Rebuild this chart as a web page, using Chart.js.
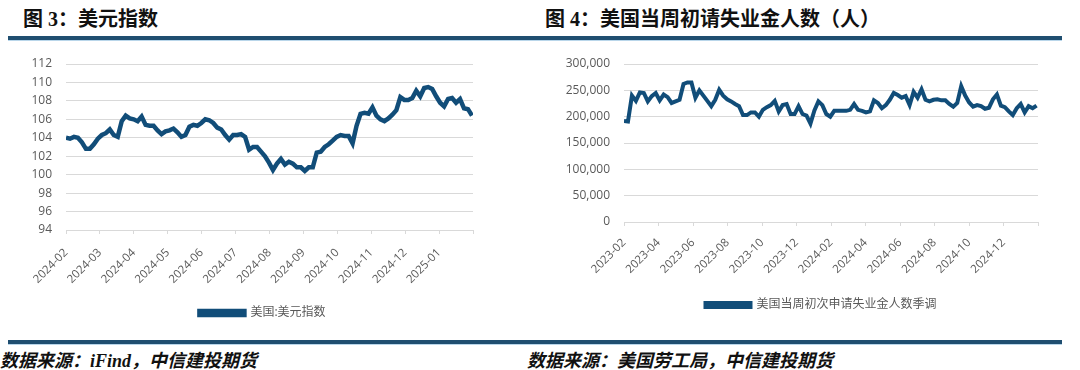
<!DOCTYPE html>
<html>
<head>
<meta charset="utf-8">
<script src="https://cdn.jsdelivr.net/npm/chart.js@4.4.1/dist/chart.umd.min.js"></script>
<style>
  body { margin: 0; width: 1080px; height: 370px; background: #fff; position: relative; overflow: hidden; }
  .title { position: absolute; top: 3px; font-size: 20px; font-weight: bold; color: #111;
           font-family: "Liberation Serif", "Noto Sans CJK SC", serif; white-space: nowrap; }
  .rule { position: absolute; height: 4px; background: #1f4e70; border-bottom: 1px solid #b9d6ea; }
  .foot { position: absolute; top: 346px; font-size: 18px; font-weight: bold; font-style: italic; color: #111;
          font-family: "Liberation Serif", "Noto Sans CJK SC", serif; white-space: nowrap; }
  .box { position: absolute; top: 40px; width: 540px; height: 300px; }
</style>
</head>
<body>
<div class="title" style="left:23px">图 3：美元指数</div>
<div class="title" style="left:545px">图 4：美国当周初请失业金人数（人）</div>
<div class="rule" style="left:8px; top:36px; width:546px"></div>
<div class="rule" style="left:552px; top:36px; width:510px"></div>

<div class="box" style="left:0"><canvas id="dxyChart" width="540" height="300"></canvas></div>
<div class="box" style="left:540px"><canvas id="claimsChart" width="540" height="300"></canvas></div>

<div class="rule" style="left:8px; top:340px; width:1054px"></div>
<div class="foot" style="left:0">数据来源：iFind，中信建投期货</div>
<div class="foot" style="left:527px">数据来源：美国劳工局，中信建投期货</div>

<script>
// 美元指数, Feb 2024 -> late Jan 2025 (evenly spaced)
const dxyMonths = ["2024-02", "2024-03", "2024-04", "2024-05", "2024-06", "2024-07",
                   "2024-08", "2024-09", "2024-10", "2024-11", "2024-12", "2025-01"];
const dxySpan = 11.97; // months covered by the series
const dxyValues = [
  104.0, 103.9, 104.1, 104.0, 103.5, 102.8, 102.8, 103.3, 103.9, 104.3,
  104.5, 104.9, 104.3, 104.1, 105.8, 106.4, 106.1, 106.0, 105.8, 106.3,
  105.4, 105.3, 105.3, 104.8, 104.4, 104.7, 104.8, 105.0, 104.6, 104.1,
  104.3, 105.2, 105.4, 105.3, 105.6, 106.0, 105.9, 105.6, 105.1, 104.9,
  104.3, 103.8, 104.3, 104.3, 104.4, 104.1, 102.7, 103.0, 103.0, 102.5,
  102.0, 101.3, 100.5, 101.2, 101.7, 101.1, 101.4, 101.2, 100.8, 100.8,
  100.4, 100.8, 100.8, 102.4, 102.5, 103.0, 103.3, 103.7, 104.1, 104.3,
  104.2, 104.2, 103.4, 105.3, 106.6, 106.7, 106.6, 107.3, 106.4, 106.0,
  105.8, 106.1, 106.5, 107.0, 108.4, 108.1, 108.1, 108.3, 109.1, 108.5,
  109.4, 109.5, 109.3, 108.5, 107.8, 107.4, 108.2, 108.3, 107.8, 108.2,
  107.2, 107.1, 106.4
];

// 初请失业金人数 (weekly, thousands), first week Feb 2023
const claimsMonths = ["2023-02", "2023-04", "2023-06", "2023-08", "2023-10", "2023-12",
                      "2024-02", "2024-04", "2024-06", "2024-08", "2024-10", "2024-12"];
const claimsThousands = [
  192, 191, 240, 230, 246, 245, 229, 239, 245, 231,
  242, 237, 226, 229, 232, 262, 265, 265, 236, 250,
  240, 230, 220, 232, 251, 240, 233, 229, 224, 220,
  203, 203, 208, 208, 200, 213, 218, 222, 230, 210,
  222, 224, 205, 205, 220, 205, 202, 187, 212, 229,
  222, 205, 200, 211, 211, 211, 211, 213, 224, 213,
  211, 208, 210, 231, 226, 216, 222, 232, 245, 241,
  236, 239, 222, 247, 236, 252, 232, 229, 232, 233,
  231, 231, 224, 219, 226, 258, 240, 227, 219, 222,
  220, 215, 217, 233, 242, 221, 218, 210, 203, 216,
  224, 208, 220, 216, 221
];

const lineColor = "#114d79";
const gridColor = "#d9d9d9";
const textColor = "#595959";

Chart.defaults.font.family = '"Open Sans", "Noto Sans CJK SC", sans-serif';
Chart.defaults.color = textColor;

// nudge the legend sideways so it sits where Excel put it
const legendShift = {
  id: "legendShift",
  afterLayout(chart, args, opts) {
    if (!chart.legend) return;
    chart.legend.left += opts.dx;
    chart.legend.right += opts.dx;
  }
};

function xAxis(labels, max, step, pad) {
  return {
    type: "linear", min: 0, max: max,
    afterFit: s => { s.height = 67; },
    ticks: {
      stepSize: step, autoSkip: false, minRotation: 45, maxRotation: 45,
      font: { size: 11.5 }, color: textColor, padding: pad,
      callback: v => labels[v / step] || ""
    },
    grid: { drawOnChartArea: false, drawTicks: true, tickLength: 4, color: gridColor },
    border: { display: true, color: gridColor }
  };
}

function legendOpts() {
  return {
    display: true, position: "bottom",
    labels: { boxWidth: 45, boxHeight: 4, padding: 10, color: textColor, font: { size: 12 } }
  };
}

new Chart(document.getElementById("dxyChart"), {
  type: "line",
  data: {
    datasets: [{
      label: "美国:美元指数",
      data: dxyValues.map((v, i) => ({ x: i * dxySpan / (dxyValues.length - 1), y: v })),
      borderColor: lineColor, backgroundColor: lineColor,
      borderWidth: 4.5, pointRadius: 0, tension: 0
    }]
  },
  options: {
    responsive: false, animation: false, devicePixelRatio: 1,
    layout: { padding: { left: 0, right: 67, top: 24, bottom: 11 } },
    plugins: { legend: legendOpts(), tooltip: { enabled: false }, legendShift: { dx: 26 } },
    scales: {
      x: xAxis(dxyMonths, 12, 1, 12),
      y: {
        min: 94, max: 112,
        afterFit: s => { s.width = 66; },
        ticks: { stepSize: 2, padding: 14, font: { size: 12 }, color: textColor },
        grid: { color: gridColor, drawTicks: false },
        border: { display: false }
      }
    }
  },
  plugins: [legendShift]
});

new Chart(document.getElementById("claimsChart"), {
  type: "line",
  data: {
    datasets: [{
      label: "美国当周初次申请失业金人数季调",
      data: claimsThousands.map((v, i) => ({ x: i * 7 / 30.4375, y: v * 1000 })),
      borderColor: lineColor, backgroundColor: lineColor,
      borderWidth: 4, pointRadius: 0, tension: 0
    }]
  },
  options: {
    responsive: false, animation: false, devicePixelRatio: 1,
    layout: { padding: { left: 0, right: 42, top: 24, bottom: 19 } },
    plugins: { legend: legendOpts(), tooltip: { enabled: false }, legendShift: { dx: 32 } },
    scales: {
      x: xAxis(claimsMonths, 24, 2, 10),
      y: {
        min: 0, max: 300000,
        afterFit: s => { s.width = 84; },
        ticks: {
          stepSize: 50000, padding: 14, font: { size: 12 }, color: textColor,
          callback: v => v.toLocaleString("en-US")
        },
        grid: { color: gridColor, drawTicks: false },
        border: { display: false }
      }
    }
  },
  plugins: [legendShift]
});
</script>
</body>
</html>
